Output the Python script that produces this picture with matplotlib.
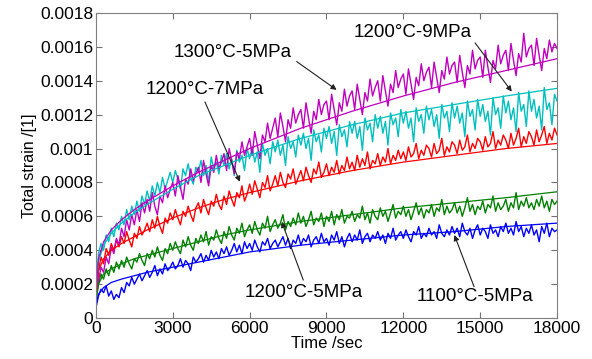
import numpy as np
import matplotlib
matplotlib.use("Agg")
import matplotlib.pyplot as plt

plt.rcParams['font.family'] = ['Liberation Sans', 'DejaVu Sans']

# measured curves, one value every 100 s, strain in units of 1e-5
time = np.arange(0, 18001, 100)

blue_raw = [6, 13, 17, 15, 19, 13, 16, 11, 14, 12,
            18, 15, 21, 19, 24, 20, 23, 26, 22, 25,
            28, 24, 27, 31, 25, 29, 26, 32, 28, 30,
            33, 29, 31, 35, 30, 34, 32, 28, 36, 33,
            35, 38, 33, 37, 34, 40, 36, 39, 35, 41,
            38, 42, 37, 40, 44, 39, 43, 38, 45, 41,
            44, 40, 46, 42, 39, 45, 43, 47, 41, 44,
            46, 42, 45, 48, 43, 47, 41, 46, 44, 49,
            43, 47, 45, 49, 42, 46, 48, 44, 50, 45,
            47, 43, 49, 46, 51, 44, 48, 42, 47, 50,
            45, 49, 46, 52, 44, 48, 50, 45, 49, 47,
            51, 46, 49, 44, 50, 47, 53, 46, 49, 51,
            47, 52, 48, 45, 51, 49, 54, 47, 50, 48,
            53, 49, 51, 47, 55, 50, 48, 52, 49, 54,
            50, 53, 48, 56, 51, 49, 53, 47, 52, 55,
            49, 53, 51, 47, 55, 50, 52, 48, 54, 51,
            56, 50, 53, 49, 57, 51, 54, 48, 53, 50,
            55, 49, 52, 45, 54, 50, 56, 48, 53, 51,
            52]
green_raw = [10, 20, 26, 23, 29, 25, 31, 27, 33, 29,
             34, 30, 36, 32, 29, 35, 33, 38, 34, 31,
             38, 35, 40, 36, 42, 37, 34, 41, 38, 44,
             40, 45, 41, 38, 46, 42, 48, 43, 40, 47,
             44, 49, 45, 51, 43, 48, 46, 52, 47, 44,
             51, 47, 54, 49, 46, 53, 50, 56, 48, 52,
             55, 50, 57, 52, 49, 56, 53, 60, 51, 55,
             58, 53, 56, 61, 52, 57, 54, 59, 55, 62,
             56, 60, 54, 58, 63, 55, 59, 57, 62, 54,
             60, 57, 63, 55, 61, 58, 64, 56, 60, 59,
             63, 57, 61, 59, 66, 58, 62, 56, 64, 60,
             58, 65, 60, 63, 57, 62, 67, 59, 63, 61,
             66, 60, 64, 58, 63, 68, 61, 65, 59, 64,
             62, 67, 60, 65, 63, 70, 61, 66, 62, 64,
             68, 62, 66, 60, 65, 71, 63, 67, 61, 66,
             64, 69, 62, 67, 65, 72, 63, 68, 64, 66,
             70, 63, 68, 65, 74, 64, 69, 66, 71, 65,
             68, 64, 70, 66, 72, 65, 69, 63, 70, 67,
             69]
red_raw = [12, 28, 36, 32, 41, 37, 44, 40, 46, 42,
           48, 44, 51, 46, 42, 50, 47, 54, 49, 52,
           56, 51, 58, 53, 60, 54, 50, 59, 56, 62,
           58, 64, 59, 55, 63, 60, 66, 61, 57, 65,
           68, 62, 70, 65, 61, 69, 66, 73, 67, 64,
           72, 67, 75, 70, 66, 74, 71, 78, 69, 73,
           79, 73, 81, 76, 71, 80, 77, 84, 75, 79,
           84, 78, 86, 80, 77, 85, 82, 88, 79, 83,
           87, 81, 89, 84, 80, 88, 85, 92, 83, 86,
           91, 84, 89, 86, 93, 85, 90, 87, 95, 88,
           92, 87, 96, 89, 94, 90, 98, 88, 93, 91,
           97, 90, 95, 92, 100, 91, 96, 93, 99, 94,
           98, 93, 101, 95, 97, 103, 94, 99, 96, 102,
           100, 95, 103, 97, 99, 106, 96, 101, 98, 104,
           102, 97, 105, 99, 101, 108, 98, 103, 100, 106,
           104, 99, 107, 101, 103, 110, 100, 105, 102, 108,
           105, 100, 109, 102, 106, 112, 101, 107, 103, 110,
           107, 102, 111, 104, 108, 113, 103, 109, 105, 112,
           108]
cyan_raw = [15, 38, 44, 40, 49, 45, 53, 48, 56, 52,
            60, 55, 64, 58, 66, 61, 69, 63, 72, 67,
            75, 69, 78, 72, 80, 74, 83, 76, 81, 86,
            80, 87, 82, 76, 88, 84, 91, 83, 79, 89,
            86, 93, 84, 90, 80, 95, 88, 92, 85, 96,
            90, 97, 88, 94, 84, 99, 92, 96, 87, 100,
            94, 101, 92, 98, 86, 103, 96, 100, 91, 104,
            98, 105, 96, 102, 90, 107, 100, 104, 95, 108,
            102, 109, 100, 106, 93, 111, 104, 108, 98, 112,
            106, 113, 103, 110, 96, 114, 107, 111, 101, 116,
            109, 116, 106, 113, 99, 118, 111, 115, 104, 120,
            112, 119, 109, 116, 102, 121, 114, 118, 107, 123,
            115, 122, 112, 118, 104, 124, 116, 120, 109, 125,
            117, 123, 113, 120, 106, 126, 118, 122, 110, 127,
            118, 125, 115, 121, 107, 128, 119, 123, 111, 129,
            119, 126, 116, 122, 108, 130, 120, 124, 112, 131,
            121, 128, 117, 124, 110, 133, 122, 126, 113, 134,
            122, 129, 118, 125, 111, 136, 123, 127, 114, 132,
            128]
magenta_raw = [12, 22, 30, 27, 36, 32, 42, 38, 47, 43,
               53, 48, 58, 52, 61, 55, 64, 57, 68, 62,
               70, 63, 74, 66, 61, 72, 68, 78, 71, 76,
               80, 72, 84, 77, 70, 82, 79, 88, 81, 85,
               89, 80, 93, 85, 78, 90, 86, 96, 88, 92,
               97, 87, 100, 93, 85, 98, 94, 104, 96, 101,
               106, 96, 110, 102, 94, 108, 104, 115, 106, 112,
               118, 107, 121, 113, 104, 117, 112, 124, 115, 120,
               123, 112, 127, 118, 109, 122, 117, 129, 120, 126,
               128, 117, 132, 123, 114, 127, 122, 135, 125, 131,
               134, 123, 138, 129, 120, 133, 128, 141, 131, 136,
               140, 128, 143, 134, 125, 138, 133, 146, 136, 141,
               144, 132, 147, 138, 129, 142, 137, 150, 140, 145,
               148, 136, 151, 142, 133, 146, 141, 154, 144, 149,
               151, 139, 155, 145, 136, 149, 144, 158, 147, 152,
               154, 142, 158, 148, 139, 152, 147, 161, 150, 155,
               158, 146, 162, 152, 143, 156, 151, 168, 154, 159,
               161, 149, 165, 155, 146, 159, 153, 164, 157, 162,
               159]

# fitted curves
fit_t = [0, 100, 300, 600, 1000, 1500, 2000, 3000, 4000, 5000, 6000,
         8000, 10000, 12000, 14000, 16000, 18000]
blue_fit = [8, 14, 18, 21, 23, 25, 27, 30, 33, 36, 39, 43, 46, 49, 51, 54, 56]
green_fit = [10, 20, 26, 29, 32, 35, 37, 41, 45, 49, 52, 57, 61, 65, 68, 71, 74.5]
red_fit = [12, 28, 35, 40, 44, 48, 52, 59, 65, 70, 74, 81, 87, 92, 96, 100, 103]
cyan_fit = [15, 33, 43, 50, 56, 62, 67, 76, 84, 90, 96, 106, 114, 121, 126, 131, 135.5]
magenta_fit = [12, 35, 45, 52, 58, 64, 69, 78, 86, 93, 100, 112, 122, 131, 139, 146, 153]

series = [
    (blue_raw, blue_fit, (0, 0, 1)),
    (green_raw, green_fit, (0, 0.5, 0)),
    (red_raw, red_fit, (1, 0, 0)),
    (cyan_raw, cyan_fit, (0, 0.75, 0.75)),
    (magenta_raw, magenta_fit, (0.75, 0, 0.75)),
]

fig = plt.figure(figsize=(5.92, 3.59), dpi=100)
ax = fig.add_axes([0.162, 0.114, 0.779, 0.85])

for raw, fit, col in series:
    ax.plot(time, np.array(raw) * 1e-5, color=col, lw=1.0)
for raw, fit, col in series:
    ax.plot(fit_t, np.array(fit) * 1e-5, color=col, lw=0.9)

ax.set_xlim(0, 18000)
ax.set_ylim(0, 0.0018)
ax.set_xticks(range(0, 18001, 3000))
yt = np.arange(0, 0.00181, 0.0002)
ax.set_yticks(yt)
ax.set_yticklabels(['{:g}'.format(round(v, 4)) for v in yt])
ax.tick_params(direction='in', top=True, right=True, labelsize=12.5,
               color='#707070', length=4, pad=2)
for sp in ax.spines.values():
    sp.set_color('#808080')

ax.set_xlabel('Time /sec', fontsize=12, labelpad=0)
ax.set_ylabel('Total strain /[1]', fontsize=11.5, labelpad=2)

labels = [
    ('1300°C-5MPa', (5350, 0.001564), (7837, 0.001513), (9396, 0.001346)),
    ('1200°C-7MPa', (4256, 0.001346), (4256, 0.001275), (5623, 0.000804)),
    ('1200°C-9MPa', (12360, 0.001682), (14800, 0.001623), (16233, 0.001336)),
    ('1200°C-5MPa', (8095, 0.000149), (8095, 0.000224), (7252, 0.000568)),
    ('1100°C-5MPa', (14800, 0.000126), (14760, 0.000185), (13991, 0.00049)),
]
for txt, pos, tail, head in labels:
    ax.text(pos[0], pos[1], txt, fontsize=13.5, ha='center', va='center')
    ax.annotate('', xy=head, xytext=tail,
                arrowprops=dict(arrowstyle='-|>', color='#202020', lw=0.8,
                                mutation_scale=8, shrinkA=0, shrinkB=0))

fig.savefig('out.png')
